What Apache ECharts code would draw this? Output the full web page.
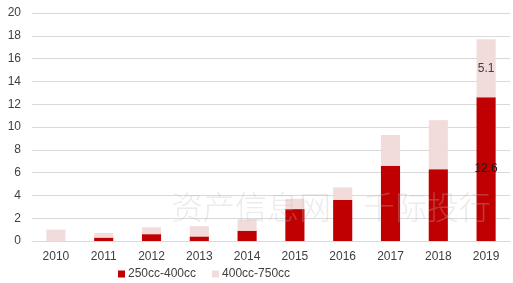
<!DOCTYPE html>
<html><head><meta charset="utf-8">
<script src="https://cdn.jsdelivr.net/npm/echarts@6/dist/echarts.min.js"></script>
<style>html,body{margin:0;padding:0;background:#fff}#c{width:513px;height:283px}</style>
</head><body><div id="c"></div>
<script>
var categories = ['2010','2011','2012','2013','2014','2015','2016','2017','2018','2019'];
var small = [0, 0.3, 0.6, 0.4, 0.9, 2.8, 3.6, 6.6, 6.3, 12.6];
var large = [1.0, 0.4, 0.6, 0.9, 1.0, 0.9, 1.1, 2.7, 4.3, 5.1];
var seriesNames = ['250cc-400cc', '400cc-750cc'];
var yTicks = [0, 20, 2];
var labelIndex = 9;

var chart = echarts.init(document.getElementById('c'), null, {renderer: 'canvas'});
function lbl(i) { return i === labelIndex; }
chart.setOption({
  animation: false,
  textStyle: {fontFamily: 'Liberation Sans, Arial, sans-serif'},
  graphic: [{
    type: 'text', left: 171, top: 191, z: 100,
    style: {text: '资产信息网\u3000千际投行', fontSize: 32, fontWeight: 300, fill: 'rgba(190,190,190,0.3)', fontFamily: 'Noto Sans CJK SC'}
  }],
  grid: {left: 32, right: 3, top: 13, bottom: 42},
  legend: {
    bottom: -2, left: 113, itemWidth: 7, itemHeight: 7, itemGap: 16,
    icon: 'rect',
    textStyle: {fontSize: 12, color: '#404040', padding: [0, 0, 0, -2]},
    data: seriesNames
  },
  xAxis: {
    type: 'category', data: categories,
    axisLine: {lineStyle: {color: '#d9d9d9'}}, axisTick: {show: false},
    axisLabel: {color: '#404040', fontSize: 12, margin: 10}
  },
  yAxis: {
    type: 'value', min: yTicks[0], max: yTicks[1], interval: yTicks[2],
    axisLine: {show: false}, axisTick: {show: false},
    axisLabel: {color: '#404040', fontSize: 12, margin: 11},
    splitLine: {lineStyle: {color: '#d9d9d9'}}
  },
  series: [{
    name: seriesNames[0], type: 'bar', stack: 's', barWidth: '40%',
    itemStyle: {color: '#C00000'},
    data: small.map(function (v, i) {
      return {value: v, label: {show: lbl(i), position: 'inside', color: '#1a1a1a', fontSize: 12}};
    })
  }, {
    name: seriesNames[1], type: 'bar', stack: 's', barWidth: '40%',
    itemStyle: {color: '#F2DCDB'},
    data: large.map(function (v, i) {
      return {value: v, label: {show: lbl(i), position: 'inside', color: '#404040', fontSize: 12}};
    })
  }]
});
</script></body></html>
